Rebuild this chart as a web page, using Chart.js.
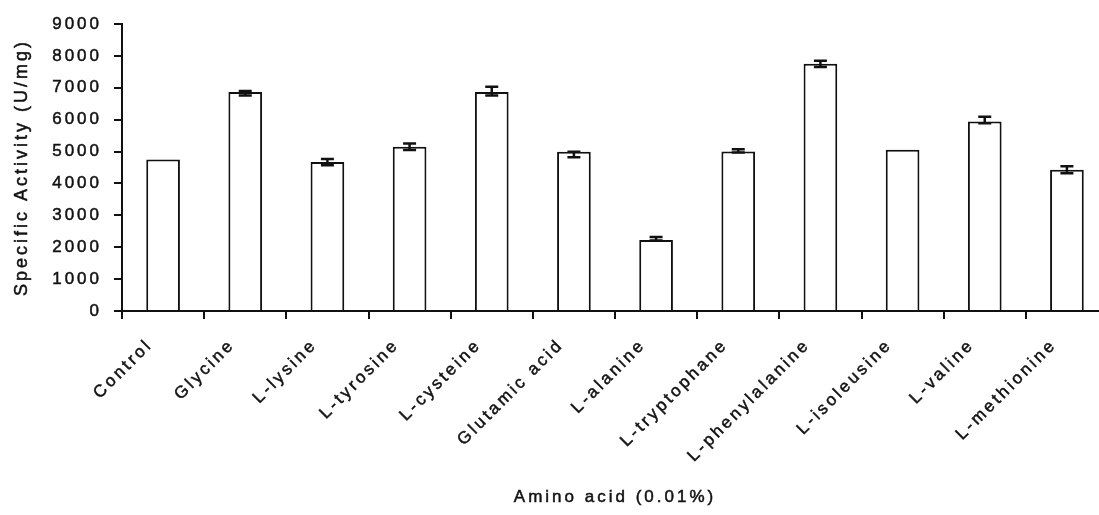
<!DOCTYPE html>
<html>
<head>
<meta charset="utf-8">
<script src="https://cdn.jsdelivr.net/npm/chart.js@4.4.1/dist/chart.umd.min.js"></script>
<style>
  html, body { margin: 0; padding: 0; background: #fff; overflow: hidden; }
  #wrap { position: absolute; left: 0; top: 0; width: 1108px; height: 515px; }
  #chart { filter: blur(0.3px); }
</style>
</head>
<body>
<div id="wrap"><canvas id="chart"></canvas></div>
<script>
// Specific activity of the enzyme with different amino acids added (0.01%)
const categories = ['Control', 'Glycine', 'L-lysine', 'L-tyrosine', 'L-cysteine', 'Glutamic acid',
  'L-alanine', 'L-tryptophane', 'L-phenylalanine', 'L-isoleusine', 'L-valine', 'L-methionine'];
const activity = [4750, 6870, 4670, 5150, 6870, 4990, 2230, 5000, 7750, 5060, 5940, 4430];
const errPlus  = [0, 30, 100, 100, 160, 0, 90, 70, 100, 0, 150, 110];
const errMinus = [0, 110, 100, 100, 110, 170, 20, 30, 100, 0, 50, 110];
const yTicks = [0, 1000, 2000, 3000, 4000, 5000, 6000, 7000, 8000, 9000];

const INK = '#111';
const FONT = { family: '"Liberation Sans", Arial, sans-serif', size: 17 };
const TITLE_Y_FONT = { family: '"Liberation Sans", Arial, sans-serif', size: 18 };

// wide, loosely spaced and slightly heavy lettering used for all chart text
const lettering = {
  id: 'lettering',
  beforeUpdate(chart) { chart.ctx.letterSpacing = '3px'; },
  beforeDraw(chart) {
    const ctx = chart.ctx;
    ctx.letterSpacing = '3px';
    if (!ctx._heavyText) {
      const fill = ctx.fillText;
      ctx.fillText = function (text, x, y, maxWidth) {
        this.save();
        this.lineWidth = 0.5;
        this.strokeStyle = this.fillStyle;
        this.setLineDash([]);
        if (maxWidth === undefined) this.strokeText(text, x, y);
        else this.strokeText(text, x, y, maxWidth);
        this.restore();
        return maxWidth === undefined ? fill.call(this, text, x, y) : fill.call(this, text, x, y, maxWidth);
      };
      ctx._heavyText = true;
    }
  }
};

// error bars drawn on top of each bar through the value scale
const errorBars = {
  id: 'errorBars',
  afterDatasetsDraw(chart) {
    const ctx = chart.ctx;
    const y = chart.scales.y;
    const meta = chart.getDatasetMeta(0);
    ctx.save();
    ctx.strokeStyle = INK;
    ctx.lineWidth = 2.5;
    meta.data.forEach((bar, i) => {
      if (!errPlus[i] && !errMinus[i]) return;
      const x = bar.x;
      const top = y.getPixelForValue(activity[i] + errPlus[i]);
      const bot = y.getPixelForValue(activity[i] - errMinus[i]);
      const half = 6.5;
      ctx.beginPath();
      ctx.moveTo(x, top); ctx.lineTo(x, bot);
      ctx.moveTo(x - half, top); ctx.lineTo(x + half, top);
      ctx.moveTo(x - half, bot); ctx.lineTo(x + half, bot);
      ctx.stroke();
    });
    ctx.restore();
  }
};

new Chart(document.getElementById('chart'), {
  type: 'bar',
  data: {
    labels: categories,
    datasets: [{
      data: activity,
      backgroundColor: '#fff',
      borderColor: INK,
      borderWidth: 2,
      barPercentage: 0.41,
      categoryPercentage: 1
    }]
  },
  options: {
    responsive: true,
    maintainAspectRatio: false,
    animation: false,
    layout: { padding: { left: 8, top: 24, right: 0, bottom: 0 } },
    plugins: { legend: { display: false }, tooltip: { enabled: false } },
    scales: {
      x: {
        offset: true,
        grid: { display: true, offset: true, drawOnChartArea: false, drawTicks: true,
                tickLength: 8, color: INK, lineWidth: 2 },
        border: { display: true, color: INK, width: 2 },
        ticks: { autoSkip: false, minRotation: 45, maxRotation: 45, color: INK, font: FONT,
                 padding: 16, labelOffset: -13 },
        title: { display: true, text: 'Amino acid (0.01%)', color: INK, font: FONT,
                 padding: { top: 0, bottom: 7 } },
        afterFit(scale) { scale.height = 204; }
      },
      y: {
        min: 0,
        max: 9000,
        afterBuildTicks(scale) { scale.ticks = yTicks.map(v => ({ value: v })); },
        grid: { display: true, drawOnChartArea: false, drawTicks: true,
                tickLength: 8, color: INK, lineWidth: 2 },
        border: { display: true, color: INK, width: 2 },
        ticks: { color: INK, font: FONT, padding: 12, callback: v => String(v) },
        title: { display: true, text: 'Specific Activity (U/mg)', color: INK, font: TITLE_Y_FONT,
                 padding: { top: 3, bottom: 0 } },
        afterFit(scale) { scale.width = 114; }
      }
    }
  },
  plugins: [lettering, errorBars]
});
</script>
</body>
</html>
